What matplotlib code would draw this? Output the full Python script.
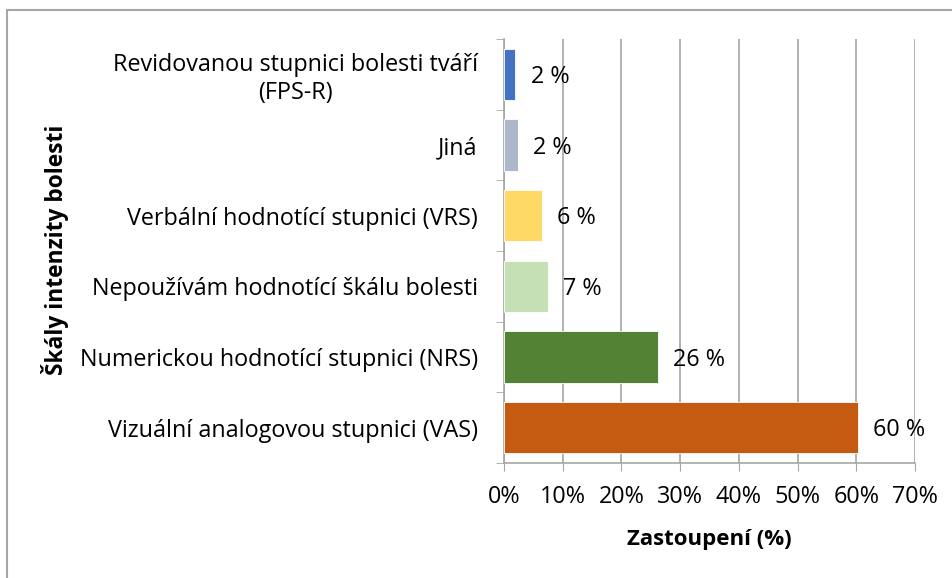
import matplotlib.pyplot as plt
from matplotlib.patches import Rectangle
from matplotlib.ticker import PercentFormatter

# data (bottom to top, as drawn)
categories = ["Vizuální analogovou stupnici (VAS)",
              "Numerickou hodnotící stupnici (NRS)",
              "Nepoužívám hodnotící škálu bolesti",
              "Verbální hodnotící stupnici (VRS)",
              "Jiná",
              "Revidovanou stupnici bolesti tváří\n(FPS-R)"]
values = [60.3, 26.2, 7.4, 6.4, 2.4, 1.9]
labels = ["60 %", "26 %", "7 %", "6 %", "2 %", "2 %"]
colors = ["#C55A11", "#548235", "#C5E0B4", "#FFD966", "#ADB9CA", "#4472C4"]
xticks = [0, 10, 20, 30, 40, 50, 60, 70]

plt.rcParams['font.family'] = ['Open Sans', 'DejaVu Sans']

fig = plt.figure(figsize=(9.53, 5.78), dpi=100)
ax = fig.add_axes([0.529, 0.199, 0.431, 0.7335])

ypos = range(len(categories))
ax.barh(ypos, values, height=0.73, color=colors, edgecolor="white", linewidth=0.6, zorder=3)
for y, v, lab in zip(ypos, values, labels):
    ax.annotate(lab, (v, y), xytext=(11, -2), textcoords="offset points",
                va="center", ha="left", fontsize=16.8, zorder=4)

ax.set_xlim(0, 70)
ax.set_ylim(-0.5, len(categories) - 0.5)
ax.set_xticks(xticks)
ax.xaxis.set_major_formatter(PercentFormatter(decimals=0))
ax.set_yticks(list(ypos))
ax.set_yticklabels(categories, fontsize=16.8, multialignment="center")
ax.set_yticks([i - 0.5 for i in range(len(categories) + 1)], minor=True)
ax.tick_params(axis="y", which="major", length=0, pad=19)
ax.tick_params(axis="y", which="minor", length=6, color="#A6A6A6", direction="out")
ax.tick_params(axis="x", length=6, color="#A6A6A6", direction="out", labelsize=16.8, pad=10)
ax.grid(axis="x", color="#A6A6A6", linewidth=1.2, zorder=0)
for s in ["top", "right"]:
    ax.spines[s].set_visible(False)
for s in ["left", "bottom"]:
    ax.spines[s].set_color("#A6A6A6")
    ax.spines[s].set_linewidth(1.2)

ax.set_xlabel("Zastoupení (%)", fontsize=16, fontweight="bold", labelpad=14)
fig.text(0.058, 0.567, "Škály intenzity bolesti", rotation=90, fontsize=16.4,
         fontweight="bold", ha="center", va="center")

# chart border (only top and left visible in the crop)
fig.patches.append(Rectangle((7 / 953, -0.1), 1.2, 1 - 10 / 578 + 0.1,
                             transform=fig.transFigure, fill=False,
                             edgecolor="#A6A6A6", linewidth=1.5))

fig.savefig("out.png", dpi=100)
